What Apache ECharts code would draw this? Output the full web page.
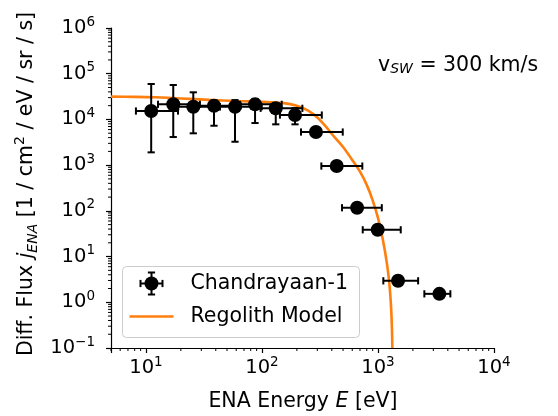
<!DOCTYPE html>
<html>
<head>
<meta charset="utf-8">
<script src="https://cdn.jsdelivr.net/npm/echarts@6/dist/echarts.min.js"></script>
<style>
  html, body { margin: 0; padding: 0; background: #fff; }
  #chart { width: 558px; height: 416px; }
</style>
</head>
<body>
<div id="chart"></div>
<script>
// Chandrayaan-1 measured ENA flux (with error bars)
const energy     = [11.1, 17.2, 25.6, 38.6, 58.6, 87.2, 131.5, 192.8, 292, 441, 661, 995, 1489, 3382];
const energyLow  = [8.2, 12.7, 19.0, 28.6, 43.4, 64.6, 97.4, 142.9, 217, 325, 490, 739, 1112, 2510];
const energyHigh = [18.9, 29.2, 43.5, 65.6, 99.6, 148, 223, 328, 497, 733, 1079, 1571, 2218, 4207];
const flux       = [15270, 21400, 18950, 19950, 18970, 21380, 17500, 12470, 5300, 955, 117, 38.5, 2.95, 1.53];
const fluxLow    = [1905, 4120, 4970, 7280, 3250, 8340, 7810, 7810, 4600, 955, 117, 38.5, 2.95, 1.53];
const fluxHigh   = [59600, 56600, 39200, 25900, 26500, 27900, 22860, 17800, 6000, 955, 117, 38.5, 2.95, 1.53];

// regolith model curve
const modelEnergy = [5, 8, 12, 20, 35, 60, 100, 150, 200, 250, 300, 350, 400, 500, 600, 700, 800, 900, 1000, 1100, 1200, 1260, 1300, 1320, 1330];
const modelFlux   = [31500, 31200, 30500, 28800, 26800, 25300, 24300, 23000, 20000, 15500, 11000, 7300, 4800, 2500, 1300, 720, 370, 170, 70, 24, 6.5, 2.2, 0.7, 0.25, 0.1];

// axes
const xMin = 5, xMax = 10000;
const yMin = 0.1, yMax = 1e6;
const minorMult = [2, 3, 4, 5, 6, 7, 8, 9];
const xDecades = [1, 10, 100, 1000];
const yDecades = [0.1, 1, 10, 100, 1000, 10000, 100000];

const xMinor = [];
xDecades.forEach(d => minorMult.forEach(m => { if (m * d >= xMin && m * d < xMax) xMinor.push(m * d); }));
const yMinor = [];
yDecades.forEach(d => minorMult.forEach(m => yMinor.push(m * d)));

const FONT = 'DejaVu Sans';
const FS = 20.5;

const powLabel = (v) => {
  const e = Math.log10(v);
  const r = Math.round(e);
  if (Math.abs(e - r) > 1e-6) return '';
  return '{b|10}{s|' + String(r).replace('-', '\u2212') + '}';
};
const tickRich = {
  b: { fontSize: 19.5, fontFamily: FONT, color: '#000', lineHeight: 26 },
  s: { fontSize: 13.5, fontFamily: FONT, color: '#000', verticalAlign: 'top', lineHeight: 13 }
};

const chart = echarts.init(document.getElementById('chart'));

const option = {
  animation: false,
  grid: { left: 111, right: 64, top: 28, bottom: 68 },
  xAxis: {
    type: 'log', logBase: 10, min: xMin, max: xMax,
    axisLine: { lineStyle: { color: '#000', width: 1.2 } },
    axisTick: { length: 5, lineStyle: { color: '#000', width: 1.2 } },
    axisLabel: { margin: 7, formatter: powLabel, rich: tickRich },
    splitLine: { show: false }
  },
  yAxis: {
    type: 'log', logBase: 10, min: yMin, max: yMax,
    axisLine: { lineStyle: { color: '#000', width: 1.2 } },
    axisTick: { length: 5, lineStyle: { color: '#000', width: 1.2 } },
    axisLabel: { margin: 16, formatter: powLabel, rich: tickRich },
    splitLine: { show: false }
  },
  series: [
    {
      name: 'Regolith Model',
      type: 'line',
      data: modelEnergy.map((e, i) => [e, modelFlux[i]]),
      showSymbol: false,
      smooth: 0.3,
      lineStyle: { color: '#ff7f0e', width: 2.6 },
      z: 2
    },
    {
      name: 'errorbars',
      type: 'custom',
      data: energy.map((e, i) => [e, flux[i], fluxLow[i], fluxHigh[i], energyLow[i], energyHigh[i]]),
      encode: { x: 0, y: 1 },
      renderItem: (params, api) => {
        const c = api.coord([api.value(0), api.value(1)]);
        const lo = api.coord([api.value(0), api.value(2)]);
        const hi = api.coord([api.value(0), api.value(3)]);
        const l = api.coord([api.value(4), api.value(1)]);
        const r = api.coord([api.value(5), api.value(1)]);
        const cap = 3.6;
        const st = { stroke: '#000', lineWidth: 2 };
        return {
          type: 'group',
          children: [
            { type: 'line', shape: { x1: c[0], y1: hi[1], x2: c[0], y2: lo[1] }, style: st },
            { type: 'line', shape: { x1: l[0], y1: c[1], x2: r[0], y2: c[1] }, style: st },
            { type: 'line', shape: { x1: c[0] - cap, y1: hi[1], x2: c[0] + cap, y2: hi[1] }, style: st },
            { type: 'line', shape: { x1: c[0] - cap, y1: lo[1], x2: c[0] + cap, y2: lo[1] }, style: st },
            { type: 'line', shape: { x1: l[0], y1: c[1] - cap, x2: l[0], y2: c[1] + cap }, style: st },
            { type: 'line', shape: { x1: r[0], y1: c[1] - cap, x2: r[0], y2: c[1] + cap }, style: st }
          ]
        };
      },
      z: 3
    },
    {
      name: 'Chandrayaan-1',
      type: 'scatter',
      data: energy.map((e, i) => [e, flux[i]]),
      symbolSize: 14,
      itemStyle: { color: '#000', opacity: 1 },
      z: 4
    },
    {
      // minor ticks on x
      type: 'custom',
      clip: false,
      silent: true,
      data: xMinor.map(v => [v, yMin]),
      renderItem: (params, api) => {
        const p = api.coord([api.value(0), api.value(1)]);
        return { type: 'line', shape: { x1: p[0], y1: p[1], x2: p[0], y2: p[1] + 3 }, style: { stroke: '#000', lineWidth: 1 } };
      }
    },
    {
      // minor ticks on y
      type: 'custom',
      clip: false,
      silent: true,
      data: yMinor.map(v => [xMin, v]),
      renderItem: (params, api) => {
        const p = api.coord([api.value(0), api.value(1)]);
        return { type: 'line', shape: { x1: p[0], y1: p[1], x2: p[0] - 3, y2: p[1] }, style: { stroke: '#000', lineWidth: 1 } };
      }
    }
  ],
  graphic: [
    // y axis title
    {
      type: 'text', x: 27, y: 184, rotation: Math.PI / 2,
      style: {
        text: 'Diff. Flux {i|j}{sub|ENA} [1 / cm{sup|2} / eV / sr / s]',
        align: 'center', verticalAlign: 'middle',
        fontSize: FS, fontFamily: FONT, fill: '#000',
        rich: {
          i: { fontSize: FS, fontStyle: 'italic', fontFamily: FONT, lineHeight: 27 },
          sub: { fontSize: 14, fontStyle: 'italic', fontFamily: FONT, verticalAlign: 'bottom', lineHeight: 14 },
          sup: { fontSize: 14, fontFamily: FONT, verticalAlign: 'top', lineHeight: 14 }
        }
      }
    },
    // x axis title
    {
      type: 'text', x: 303, y: 402,
      style: {
        text: 'ENA Energy {i|E} [eV]',
        align: 'center', verticalAlign: 'middle',
        fontSize: FS, fontFamily: FONT, fill: '#000',
        rich: { i: { fontSize: FS, fontStyle: 'italic', fontFamily: FONT } }
      }
    },
    // annotation
    {
      type: 'text', x: 378, y: 66,
      style: {
        text: 'v{sub|SW} = 300 km/s',
        align: 'left', verticalAlign: 'middle',
        fontSize: FS, fontFamily: FONT, fill: '#000',
        rich: { sub: { fontSize: 14, fontStyle: 'italic', fontFamily: FONT, verticalAlign: 'bottom', lineHeight: 14 } }
      }
    },
    // legend
    {
      type: 'group', left: 122, top: 266,
      children: [
        { type: 'rect', shape: { x: 0, y: 0, width: 237, height: 71, r: 4 }, style: { fill: 'rgba(255,255,255,0.8)', stroke: '#cccccc', lineWidth: 1 } },
        { type: 'line', shape: { x1: 18, y1: 17, x2: 40, y2: 17 }, style: { stroke: '#000', lineWidth: 2 } },
        { type: 'line', shape: { x1: 29, y1: 6, x2: 29, y2: 28 }, style: { stroke: '#000', lineWidth: 2 } },
        { type: 'line', shape: { x1: 18, y1: 13.4, x2: 18, y2: 20.6 }, style: { stroke: '#000', lineWidth: 2 } },
        { type: 'line', shape: { x1: 40, y1: 13.4, x2: 40, y2: 20.6 }, style: { stroke: '#000', lineWidth: 2 } },
        { type: 'line', shape: { x1: 25.4, y1: 6, x2: 32.6, y2: 6 }, style: { stroke: '#000', lineWidth: 2 } },
        { type: 'line', shape: { x1: 25.4, y1: 28, x2: 32.6, y2: 28 }, style: { stroke: '#000', lineWidth: 2 } },
        { type: 'circle', shape: { cx: 29, cy: 17, r: 7 }, style: { fill: '#000' } },
        { type: 'text', x: 68, y: 17, style: { text: 'Chandrayaan-1', fontSize: FS, fontFamily: FONT, fill: '#000', verticalAlign: 'middle' } },
        { type: 'line', shape: { x1: 7, y1: 50, x2: 51, y2: 50 }, style: { stroke: '#ff7f0e', lineWidth: 2.6 } },
        { type: 'text', x: 68, y: 50, style: { text: 'Regolith Model', fontSize: FS, fontFamily: FONT, fill: '#000', verticalAlign: 'middle' } }
      ]
    }
  ]
};

chart.setOption(option);
</script>
</body>
</html>
